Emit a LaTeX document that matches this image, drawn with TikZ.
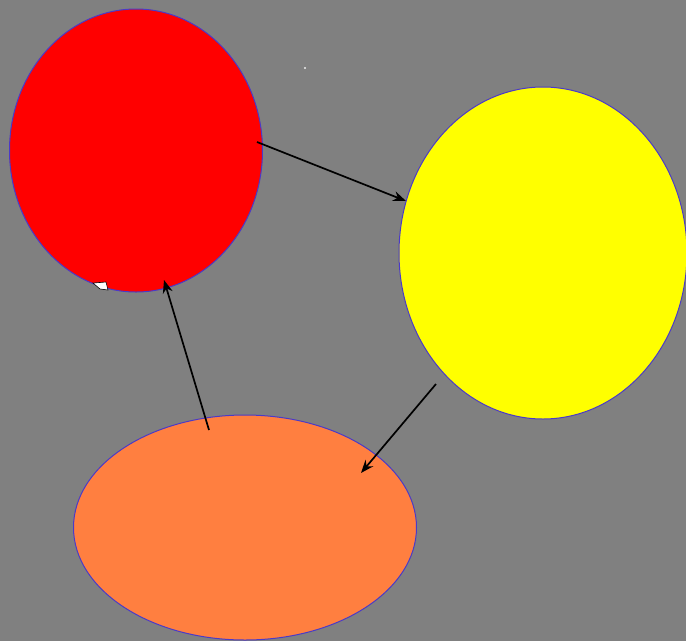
\documentclass[tikz,border=0pt]{standalone}
\usetikzlibrary{shapes.geometric,arrows.meta}
\definecolor{bg}{RGB}{128,128,128}
\definecolor{rim}{RGB}{74,58,200}
\definecolor{orangefill}{RGB}{255,127,64}
\definecolor{yel}{RGB}{255,255,0}
\definecolor{rd}{RGB}{255,0,0}
\tikzset{
  blob/.style={ellipse, draw=rim, line width=1pt, inner sep=0pt},
  link/.style={draw=black, line width=1.7pt, -{Stealth[length=13pt,width=10pt]}}
}
\begin{document}
\begin{tikzpicture}[x=1pt,y=-1pt]
\useasboundingbox (0,0) rectangle (686,641);
\clip (0,0) rectangle (686,641);
\fill[bg] (0,0) rectangle (686,641);
\node[blob, fill=rd, minimum width=253pt, minimum height=283pt] (red) at (136,150.5) {};
\node[blob, fill=yel, minimum width=288pt, minimum height=332pt] (yellow) at (543,253) {};
\node[blob, fill=orangefill, minimum width=343pt, minimum height=225pt] (orange) at (245,527.5) {};
% small white artifact
\filldraw[fill=white, draw=black, line width=0.6pt] (93,283) -- (106,282) -- (108,290) -- (100,289) -- cycle;
\fill[white!85!bg] (305,68) circle (1.2pt);
\coordinate (r1) at (257,142);
\coordinate (y1) at (406,201);
\coordinate (y2) at (436,384);
\coordinate (o1) at (361,473);
\coordinate (o2) at (209,430);
\coordinate (r2) at (164,280);
\draw[link] (r1) -- (y1);
\draw[link] (y2) -- (o1);
\draw[link] (o2) -- (r2);
\end{tikzpicture}
\end{document}
